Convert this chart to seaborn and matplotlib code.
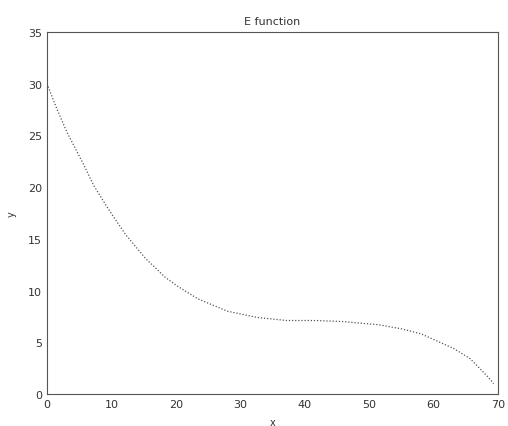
import pandas as pd
import seaborn as sns
import matplotlib.pyplot as plt

# valores
x_vals = [0, 1.5, 3.1, 5.5, 7.3, 9.6, 12.2, 15.3, 18.3, 20.3, 23.4, 28, 32.6,
          37.2, 41.7, 45.9, 49.4, 51.4, 55, 58.1, 60.6, 63.1, 65.7, 68.5, 69.3]
y_vals = [30.0, 27.6, 25.3, 22.4, 20.1, 17.8, 15.4, 13.1, 11.3, 10.4, 9.2, 8.0, 7.4,
          7.1, 7.1, 7.0, 6.8, 6.7, 6.3, 5.8, 5.1, 4.4, 3.4, 1.6, 1.0]
x_ticks = [0, 10, 20, 30, 40, 50, 60, 70]
y_ticks = [0, 5, 10, 15, 20, 25, 30, 35]

df = pd.DataFrame({'x': x_vals, 'y': y_vals})

sns.set_style("white")
plt.rcParams['font.family'] = ['DejaVu Sans']
plt.rcParams['xtick.direction'] = 'in'
plt.rcParams['ytick.direction'] = 'in'

fig = plt.figure(figsize=(5.08, 4.27), dpi=100)
ax = fig.add_axes([0.0925, 0.075, 0.888, 0.848])

sns.lineplot(data=df, x='x', y='y', ax=ax, color='#555555', linewidth=0.9,
             linestyle=(0, (1, 1.5)))

ax.set_xlim(0, 70)
ax.set_ylim(0, 35)
ax.set_xticks(x_ticks)
ax.set_yticks(y_ticks)
ax.tick_params(labelsize=8, length=3, colors='#444444', labelcolor='#333333')
for s in ax.spines.values():
    s.set_color('#555555')
    s.set_linewidth(0.8)
    s.set_visible(True)

ax.set_title('E function', fontsize=8, color='#333333', pad=6)
ax.set_xlabel('x', fontsize=7, color='#333333', labelpad=6)
ax.set_ylabel('y', fontsize=7, color='#333333', labelpad=8)

fig.savefig('out.png', dpi=100)
